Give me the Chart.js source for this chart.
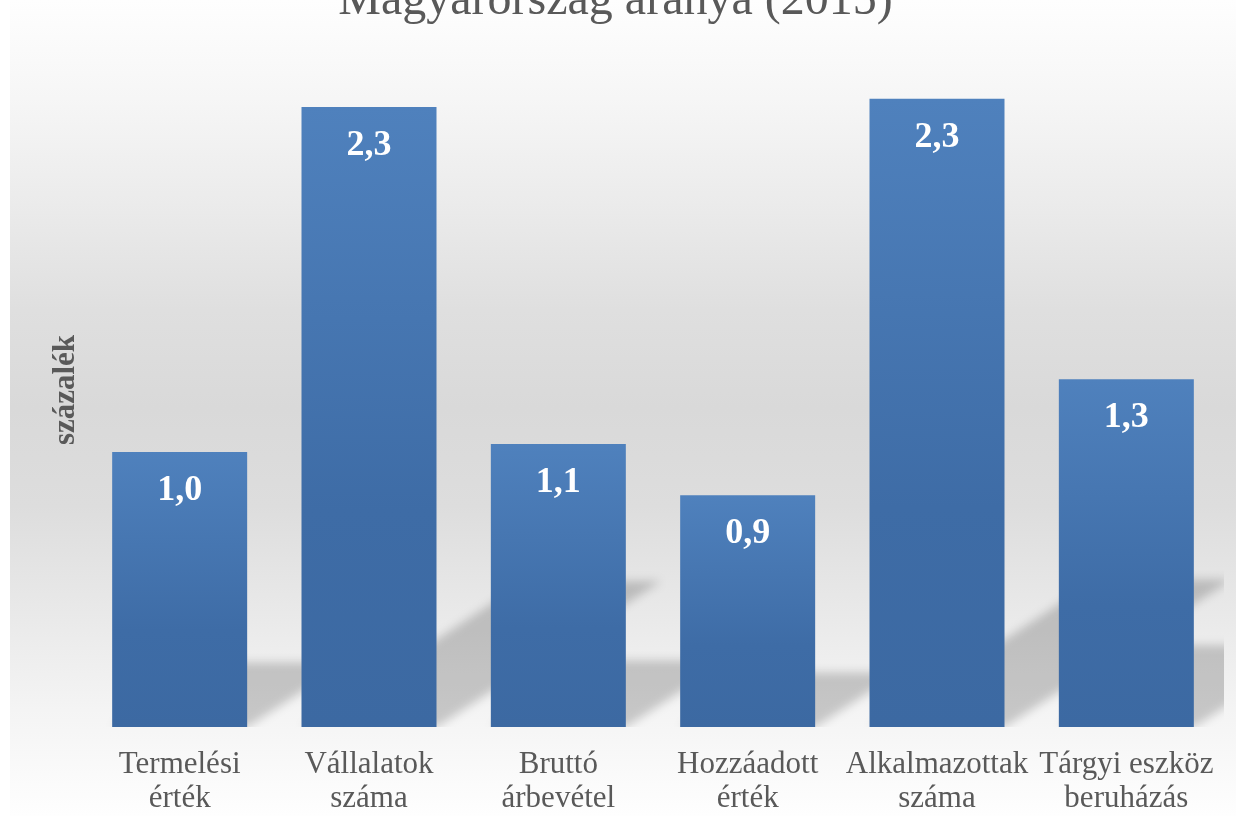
<!DOCTYPE html>
<html lang="hu">
<head>
<meta charset="utf-8">
<title>Magyarország aránya (2015)</title>
<script src="https://cdn.jsdelivr.net/npm/chart.js@4.4.0/dist/chart.umd.min.js"></script>
<style>
  html, body { margin: 0; padding: 0; background: #fff; overflow: hidden; }
  /* canvas is shifted up so the title is cut like in the original */
  #wrap { position: absolute; left: 0; top: -40px; width: 1236px; height: 856px; }
</style>
</head>
<body>
<div id="wrap"><canvas id="chart"></canvas></div>
<script>
const SHIFT = 40;
const FONT = '"Liberation Serif", "Times New Roman", serif';
const GREY = '#595959';

// ── Data ──────────────────────────────────────────────────────────────────────
const categories = [
  ['Termelési', 'érték'],
  ['Vállalatok', 'száma'],
  ['Bruttó', 'árbevétel'],
  ['Hozzáadott', 'érték'],
  ['Alkalmazottak', 'száma'],
  ['Tárgyi eszköz', 'beruházás']
];
const values = [1.02, 2.30, 1.05, 0.86, 2.33, 1.29];
const yMin = 0;
const yMax = 2.5;

const fmt = v => (Math.round(v * 10) / 10).toFixed(1).replace('.', ',');

// ── Plugins ───────────────────────────────────────────────────────────────────
const backgroundPlugin = {
  id: 'bg',
  beforeDraw(chart) {
    const { ctx, width, height } = chart;
    ctx.save();
    ctx.fillStyle = '#ffffff';
    ctx.fillRect(0, 0, width, height);
    const g = ctx.createLinearGradient(0, SHIFT, 0, SHIFT + 816);
    g.addColorStop(0.00, '#fefefe');
    g.addColorStop(0.12, '#f6f6f6');
    g.addColorStop(0.25, '#ebebeb');
    g.addColorStop(0.38, '#dfdfdf');
    g.addColorStop(0.50, '#d9d9d9');
    g.addColorStop(0.62, '#dddddd');
    g.addColorStop(0.74, '#e8e8e8');
    g.addColorStop(0.87, '#f4f4f4');
    g.addColorStop(1.00, '#fefefe');
    ctx.fillStyle = g;
    ctx.fillRect(10, 0, width - 10, height);
    ctx.restore();
  }
};

// soft perspective shadow behind each bar
const shadowPlugin = {
  id: 'barShadow',
  beforeDatasetsDraw(chart) {
    const { ctx, chartArea } = chart;
    const bars = chart.getDatasetMeta(0).data;
    ctx.save();
    ctx.beginPath();
    ctx.rect(chartArea.left, chartArea.top, chartArea.right - chartArea.left + 3, chartArea.bottom - chartArea.top);
    ctx.clip();
    ctx.filter = 'blur(5px)';
    ctx.fillStyle = 'rgba(0,0,0,0.19)';
    ctx.beginPath();
    bars.forEach(b => {
      const h = (b.base - b.y) * 0.235;
      const dx = h * 1.54;
      const l = b.x - b.width / 2, r = b.x + b.width / 2;
      ctx.moveTo(l, b.base);
      ctx.lineTo(r, b.base);
      ctx.lineTo(r + dx, b.base - h);
      ctx.lineTo(l + dx, b.base - h);
      ctx.closePath();
    });
    ctx.fill();
    ctx.restore();
  }
};

const valueLabelPlugin = {
  id: 'valueLabels',
  afterDatasetsDraw(chart) {
    const { ctx } = chart;
    const bars = chart.getDatasetMeta(0).data;
    ctx.save();
    ctx.font = `bold 36px ${FONT}`;
    ctx.fillStyle = '#ffffff';
    ctx.textAlign = 'center';
    ctx.textBaseline = 'alphabetic';
    bars.forEach((b, i) => ctx.fillText(fmt(values[i]), b.x, b.y + 48));
    ctx.restore();
  }
};

function barFill(c) {
  const chart = c.chart;
  if (!chart.chartArea || c.type !== 'data') return '#4a7ab5';
  const ys = chart.scales.y;
  const top = ys.getPixelForValue(c.parsed.y);
  const bottom = ys.getPixelForValue(0);
  const g = chart.ctx.createLinearGradient(0, top, 0, bottom);
  g.addColorStop(0, '#4f81bd');
  g.addColorStop(0.65, '#3e6ca6');
  g.addColorStop(1, '#3c69a2');
  return g;
}

// ── Chart ─────────────────────────────────────────────────────────────────────
new Chart(document.getElementById('chart'), {
  type: 'bar',
  data: {
    labels: categories,
    datasets: [{
      data: values,
      backgroundColor: barFill,
      borderWidth: 0,
      categoryPercentage: 1,
      barPercentage: 0.713
    }]
  },
  options: {
    responsive: true,
    maintainAspectRatio: false,
    animation: false,
    layout: { padding: { left: 10, right: 15, top: 0, bottom: 0 } },
    plugins: {
      legend: { display: false },
      tooltip: { enabled: false },
      title: {
        display: true,
        text: 'Magyarország aránya (2015)',
        color: GREY,
        font: { family: FONT, size: 48, weight: 'normal', lineHeight: 1.2 },
        padding: { top: 13, bottom: 22.4 }
      }
    },
    scales: {
      x: {
        grid: { display: false, drawTicks: false },
        border: { display: false },
        ticks: {
          color: GREY,
          font: { family: FONT, size: 31, lineHeight: 1.1 },
          padding: 21,
          autoSkip: false,
          maxRotation: 0,
          minRotation: 0
        },
        afterFit: s => { s.height = 89; }
      },
      y: {
        min: yMin,
        max: yMax,
        ticks: { display: false },
        grid: { display: false, drawTicks: false },
        border: { display: false },
        title: {
          display: true,
          text: 'százalék',
          color: GREY,
          font: { family: FONT, size: 31, weight: 'bold', lineHeight: 1.2 },
          padding: { top: 37, bottom: 0 }
        },
        afterFit: s => { s.width = 75; }
      }
    }
  },
  plugins: [backgroundPlugin, shadowPlugin, valueLabelPlugin]
});
</script>
</body>
</html>
